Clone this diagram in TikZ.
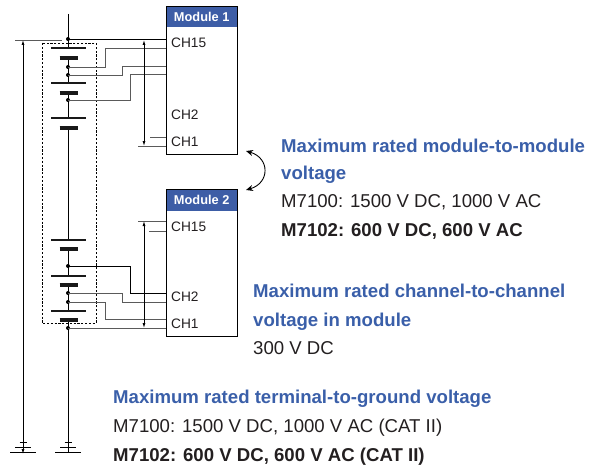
\documentclass[tikz,border=0pt]{standalone}
\usepackage{fontspec}
\setmainfont{Liberation Sans}
\usetikzlibrary{arrows.meta}
\definecolor{hdrblue}{HTML}{3D5DA6}
\definecolor{txtblue}{HTML}{3A5FA9}
\definecolor{txtblack}{HTML}{231F20}
\definecolor{wiregray}{HTML}{5A5A5A}
\tikzset{
  lead/.style={line width=0.8pt, draw=black},
  wire/.style={line width=0.8pt, draw=wiregray},
  longplate/.style={line width=1.4pt, draw=black!90},
  shortplate/.style={line width=4pt, draw=black!90},
  dimarrow/.style={line width=0.8pt, draw=black, {Latex[length=5pt,width=3pt]}-{Latex[length=5pt,width=3pt]}},
  jdot/.style={circle, fill=black, inner sep=0pt, minimum size=4pt},
  modbox/.style={draw=black, line width=0.9pt, fill=white, anchor=north west, minimum width=71pt, inner sep=0pt},
  hdr/.style={fill=hdrblue, anchor=north west, minimum width=71pt, inner sep=0pt, text=white, font=\bfseries\fontsize{12.8}{14}\selectfont},
  chlabel/.style={anchor=west, inner sep=0pt, text=txtblack, font=\fontsize{13.7}{14}\selectfont},
  headtxt/.style={anchor=base west, inner sep=0pt, text=txtblue, font=\bfseries\fontsize{18.6}{20}\selectfont},
  bodytxt/.style={anchor=base west, inner sep=0pt, text=txtblack, font=\fontsize{18.6}{20}\selectfont},
  boldtxt/.style={anchor=base west, inner sep=0pt, text=txtblack, font=\bfseries\fontsize{18.6}{20}\selectfont},
}
\begin{document}
\begin{tikzpicture}[x=1pt,y=-1pt]
\useasboundingbox (0,0) rectangle (593,468);

% dashed enclosure
\draw[line width=0.8pt, dash pattern=on 2.2pt off 1.6pt] (42,43) rectangle (96,323);

% modules
\node[modbox, minimum height=148pt] (m1) at (166,6) {};
\node[hdr, minimum height=21pt] (h1) at (166,6) {Module 1};
\draw[line width=0.9pt] (m1.north west) rectangle (m1.south east);
\node[modbox, minimum height=147pt] (m2) at (166,189) {};
\node[hdr, minimum height=22pt] (h2) at (166,189) {Module 2};
\draw[line width=0.9pt] (m2.north west) rectangle (m2.south east);

\node[chlabel] (c115) at (171,43) {CH15};
\node[chlabel] (c12) at (171,115) {CH2};
\node[chlabel] (c11) at (171,142) {CH1};
\node[chlabel] (c215) at (171,227) {CH15};
\node[chlabel] (c22) at (171,297) {CH2};
\node[chlabel] (c21) at (171,324) {CH1};

% main string coordinates
\coordinate (top) at (68,14);
\coordinate (gnd) at (68,452);
\coordinate (L1) at (68,48);  \coordinate (S1) at (68,58);
\coordinate (L2) at (68,83);  \coordinate (S2) at (68,93);
\coordinate (L3) at (68,118); \coordinate (S3) at (68,128);
\coordinate (L4) at (68,240); \coordinate (S4) at (68,249);
\coordinate (L5) at (68,276); \coordinate (S5) at (68,285);
\coordinate (L6) at (68,311); \coordinate (S6) at (68,320);

\draw[lead] (top) -- (L1) (S1) -- (L2) (S2) -- (L3) (S3) -- (L4) (S4) -- (L5) (S5) -- (L6) (S6) -- (gnd);
\foreach \p in {L1,L2,L3,L4,L5,L6} \draw[longplate] ([xshift=-17pt]\p) -- ([xshift=18pt]\p);
\foreach \p in {S1,S2,S3,S4,S5,S6} \draw[shortplate] ([xshift=-8.5pt]\p) -- ([xshift=9.5pt]\p);

% junctions
\node[jdot] (d0) at (68,39) {};
\node[jdot] (d1) at (68,67) {};
\node[jdot] (d2) at (68,75) {};
\node[jdot] (d3) at (68,100) {};
\node[jdot] (e1) at (68,266) {};
\node[jdot] (e2) at (68,293) {};
\node[jdot] (e3) at (68,302) {};
\node[jdot] (e4) at (68,328) {};

% module 1 wires
\draw[lead] (d0.center) -- (m1.west |- d0);
\draw[wire] (d1.center) -- (105,67) -- (105,48) -- (166,48);
\draw[wire] (d2.center) -- (122,75) -- (122,66) -- (166,66);
\draw[wire] (d3.center) -- (130,100) -- (130,74) -- (166,74);
\draw[wire] (150,137) -- (166,137);
\draw[wire] (138,146) -- (166,146);
\draw[dimarrow] (144,40) -- (144,146);

% module 2 wires
\draw[lead] (e1.center) -- (130,266) -- (130,293) -- (166,293);
\draw[wire] (e2.center) -- (122,293) -- (122,302) -- (166,302);
\draw[wire] (e3.center) -- (105,302) -- (105,319) -- (166,319);
\draw[wire] (e4.center) -- (m2.west |- e4);
\draw[wire] (138,221) -- (166,221);
\draw[wire] (149,231) -- (166,231);
\draw[dimarrow] (144,221) -- (144,328);

% left reference line
\coordinate (ref) at (23,40);
\coordinate (gndL) at (23,452);
\draw[wire] (15,40) -- (62,40);
\draw[dimarrow] (ref) -- ([yshift=-2pt]gndL);

% grounds
\foreach \g in {gndL,gnd} {
  \draw[line width=1pt] ([xshift=-13pt]\g) -- ([xshift=13pt]\g);
  \draw[line width=1pt] ([xshift=-8pt,yshift=5pt]\g) -- ([xshift=8pt,yshift=5pt]\g);
  \draw[line width=1pt] ([xshift=-3.5pt,yshift=10pt]\g) -- ([xshift=3.5pt,yshift=10pt]\g);
}

% module-to-module curved arrow
\coordinate (ca) at (246,151);
\coordinate (cb) at (246,190);
\draw[line width=0.9pt, {Stealth[length=7pt,width=6pt]}-{Stealth[length=7pt,width=6pt]}] (ca) .. controls (270,158) and (270,183) .. (cb);

% texts
\node[headtxt] (t1a) at (281,152) {Maximum rated module-to-module};
\node[headtxt] (t1b) at (281,179) {voltage};
\node[bodytxt] (t1c) at (281,207) {M7100: 1500 V DC, 1000 V AC};
\node[boldtxt] (t1d) at (281,236) {M7102: 600 V DC, 600 V AC};

\node[headtxt] (t2a) at (253,297) {Maximum rated channel-to-channel};
\node[headtxt] (t2b) at (253,326) {voltage in module};
\node[bodytxt] (t2c) at (253,354) {300 V DC};

\node[headtxt] (t3a) at (113,403) {Maximum rated terminal-to-ground voltage};
\node[bodytxt] (t3b) at (113,432) {M7100: 1500 V DC, 1000 V AC (CAT II)};
\node[boldtxt] (t3c) at (113,461) {M7102: 600 V DC, 600 V AC (CAT II)};
\end{tikzpicture}
\end{document}
